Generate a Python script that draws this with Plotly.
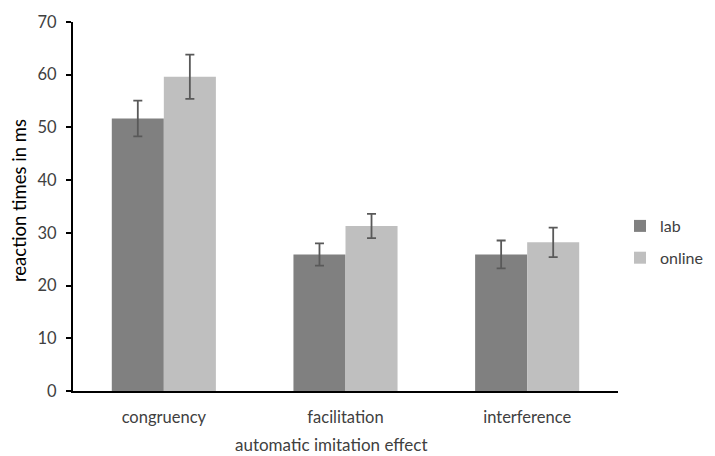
import plotly.graph_objects as go

categories = ["congruency", "facilitation", "interference"]
lab_values = [51.7, 25.9, 25.9]
lab_errors = [3.4, 2.1, 2.65]
online_values = [59.6, 31.3, 28.2]
online_errors = [4.2, 2.3, 2.8]

font_family = "Lato, Carlito, Liberation Sans, sans-serif"
text_color = "#404040"

# page body has an 8px margin; lay the figure out in window pixels minus that offset
OFF = 8
W, H = 715 - OFF, 456 - OFF
L, T = 73 - OFF, 22 - OFF
PW, PH = 545, 369
R, B = W - L - PW, H - T - PH

fig = go.Figure()
fig.add_trace(go.Bar(
    name="lab", x=categories, y=lab_values, legendgroup="lab",
    marker=dict(color="#808080", line=dict(width=0)),
    error_y=dict(type="data", array=lab_errors, color="#595959", thickness=1.8, width=4.5),
))
fig.add_trace(go.Bar(
    name="online", x=categories, y=online_values, legendgroup="online",
    marker=dict(color="#bfbfbf", line=dict(width=0)),
    error_y=dict(type="data", array=online_errors, color="#595959", thickness=1.8, width=4.5),
))

fig.update_layout(
    width=W, height=H,
    margin=dict(l=L, r=R, t=T, b=B, autoexpand=False),
    paper_bgcolor="white", plot_bgcolor="white",
    barmode="group", bargap=0.427, bargroupgap=0,
    font=dict(family=font_family, size=16.5, color=text_color),
    showlegend=True,
    legend=dict(x=(620 - OFF - L) / PW, y=(391 - 242) / PH, xanchor="left", yanchor="middle",
                font=dict(size=16, color=text_color), tracegroupgap=8,
                itemwidth=30, traceorder="grouped", borderwidth=0,
                bgcolor="rgba(0,0,0,0)"),
    xaxis=dict(
        showline=True, linecolor="black", linewidth=2, ticks="",
        showgrid=False, tickfont=dict(size=16.5, color=text_color),
        automargin=False, ticklabelstandoff=10,
    ),
    yaxis=dict(
        range=[0, 70], dtick=10, showline=True, linecolor="black", linewidth=2,
        ticks="outside", ticklen=5, tickwidth=2, tickcolor="black", showgrid=False,
        zeroline=False, tickfont=dict(size=16.5, color=text_color),
        automargin=False, ticklabelstandoff=6,
    ),
    annotations=[
        dict(text="automatic imitation effect", xref="paper", yref="paper",
             x=(331 - 73) / PW, y=-(444 - 391) / PH, xanchor="center", yanchor="middle",
             showarrow=False, font=dict(size=17, color=text_color)),
        dict(text="reaction times in ms", xref="paper", yref="paper",
             x=-(73 - 19) / PW, y=(391 - 201) / PH, xanchor="center", yanchor="middle",
             textangle=-90, showarrow=False, font=dict(size=18.5, color="black")),
    ],
)

fig.write_html("out.html")
